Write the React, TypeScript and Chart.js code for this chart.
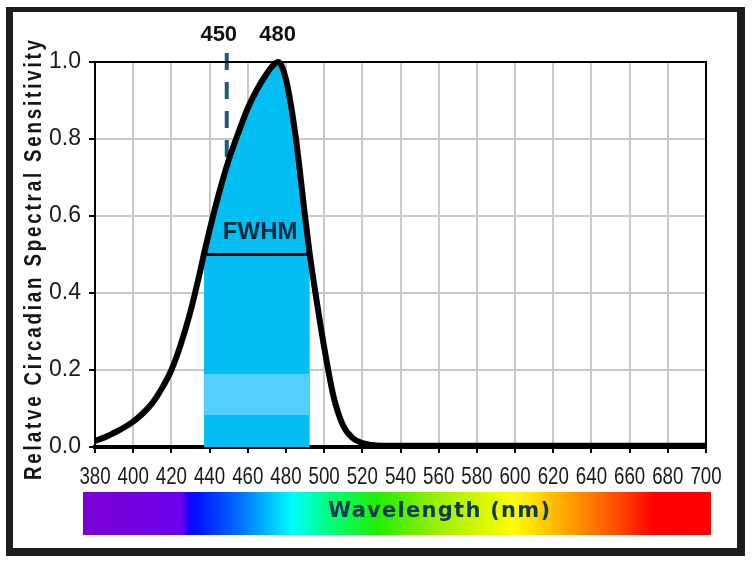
import { useEffect, useRef } from 'react';
import { Chart, registerables } from 'chart.js';

Chart.register(...registerables);

// ---- data ----
const wavelengths = [
  380, 385, 390, 395, 400, 405, 410, 415, 420, 425, 430, 435, 437, 440, 445, 450, 455, 460, 465, 470, 473, 476,
  480, 485, 490, 492.5, 495, 500, 505, 510, 515, 520, 525, 530, 540, 560, 580, 600, 620, 640, 660, 680, 700,
];
const sensitivity = [
  0.016, 0.025, 0.037, 0.05, 0.066, 0.087, 0.114, 0.152, 0.2, 0.268, 0.352, 0.455, 0.5, 0.563, 0.66, 0.745, 0.815,
  0.88, 0.93, 0.97, 0.99, 1.0, 0.955, 0.81, 0.6, 0.5, 0.415, 0.26, 0.13, 0.055, 0.023, 0.01, 0.005, 0.003, 0.003,
  0.003, 0.003, 0.003, 0.003, 0.003, 0.003, 0.003, 0.003,
];
const xTicks = [380, 400, 420, 440, 460, 480, 500, 520, 540, 560, 580, 600, 620, 640, 660, 680, 700];
const yTicks = [0, 0.2, 0.4, 0.6, 0.8, 1.0];
const fwhmBounds = [437, 492.5];
const halfMax = 0.5;
const bandBounds = [0.083, 0.19];
const markerWavelength = 449;
const markerTop = 1.047;
const markerLabel = '450';
const peakWavelength = 475.7;
const peakLabel = '480';
const yTitle = 'Relatve Circadian Spectral Sensitivity';
const xTitle = 'Wavelength (nm)';
const fwhmText = 'FWHM';

const curvePoints = wavelengths.map((w, i) => ({ x: w, y: sensitivity[i] }));

const FILL_COLOR = 'rgb(2,190,242)';
const BAND_COLOR = 'rgb(82,207,250)';
const SANS = '"Liberation Sans", Arial, sans-serif';
const FILL_INDEX = 2;

function fitText(ctx: CanvasRenderingContext2D, text: string, width: number) {
  (ctx as any).letterSpacing = '0px';
  const w0 = ctx.measureText(text).width;
  const ls = (width - w0) / (text.length - 1);
  (ctx as any).letterSpacing = `${ls}px`;
}

const decorPlugin = {
  id: 'decor',
  beforeDraw(chart: any) {
    const { ctx } = chart;
    ctx.save();
    const g = ctx.createLinearGradient(83, 0, 711, 0);
    const stops: [number, string][] = [
      [0, '#7b00d4'],
      [0.158, '#6c00ee'],
      [0.166, '#2200ff'],
      [0.18, '#0010ff'],
      [0.25, '#0070ff'],
      [0.334, '#00ffff'],
      [0.39, '#00ff80'],
      [0.47, '#22ee00'],
      [0.56, '#99ee00'],
      [0.686, '#ffff00'],
      [0.79, '#ff9000'],
      [0.86, '#ff4000'],
      [0.91, '#ff0000'],
      [1, '#ff0000'],
    ];
    stops.forEach(([o, c]) => g.addColorStop(o, c));
    ctx.fillStyle = g;
    ctx.fillRect(83, 492, 628, 43);
    ctx.restore();
  },
  afterDatasetDraw(chart: any, args: any) {
    if (args.index !== FILL_INDEX) return;
    const { ctx, scales } = chart;
    const l = scales.x.getPixelForValue(fwhmBounds[0]);
    const r = scales.x.getPixelForValue(fwhmBounds[1]);
    const t = scales.y.getPixelForValue(bandBounds[1]);
    const b = scales.y.getPixelForValue(bandBounds[0]);
    ctx.save();
    ctx.fillStyle = BAND_COLOR;
    ctx.fillRect(l, t, r - l, b - t);
    ctx.restore();
  },
  afterDraw(chart: any) {
    const { ctx, chartArea, scales } = chart;
    ctx.save();
    // plot frame top & right
    ctx.strokeStyle = '#000';
    ctx.lineWidth = 2;
    ctx.beginPath();
    ctx.moveTo(chartArea.left, chartArea.top);
    ctx.lineTo(chartArea.right, chartArea.top);
    ctx.lineTo(chartArea.right, chartArea.bottom);
    ctx.stroke();

    // x tick labels (condensed)
    ctx.fillStyle = '#1a1a1a';
    ctx.font = `24px ${SANS}`;
    ctx.textAlign = 'center';
    ctx.textBaseline = 'middle';
    xTicks.forEach((v) => {
      ctx.save();
      ctx.translate(scales.x.getPixelForValue(v), 477);
      ctx.scale(0.78, 1);
      ctx.fillText(String(v), 0, 0);
      ctx.restore();
    });

    // top labels
    ctx.fillStyle = '#111';
    ctx.font = `bold 22px ${SANS}`;
    ctx.fillText(markerLabel, scales.x.getPixelForValue(markerWavelength) - 8, 35);
    ctx.fillText(peakLabel, scales.x.getPixelForValue(peakWavelength), 35);

    // FWHM
    ctx.fillStyle = '#0b2a3c';
    ctx.font = `bold 24px ${SANS}`;
    ctx.fillText(fwhmText, scales.x.getPixelForValue(466.5), scales.y.getPixelForValue(0.558));

    // y title
    ctx.save();
    ctx.translate(34, 260);
    ctx.rotate(-Math.PI / 2);
    ctx.scale(0.78, 1);
    ctx.fillStyle = '#151515';
    ctx.font = `bold 24px ${SANS}`;
    ctx.textAlign = 'left';
    fitText(ctx, yTitle, 440 / 0.78);
    ctx.fillText(yTitle, -220 / 0.78, 0);
    ctx.restore();

    // x title over spectrum bar
    ctx.fillStyle = '#0c3b57';
    ctx.font = `bold 21px "DejaVu Sans", sans-serif`;
    ctx.textAlign = 'left';
    fitText(ctx, xTitle, 222);
    ctx.fillText(xTitle, 328, 512);
    ctx.restore();
  },
};

export default function App() {
  const ref = useRef<HTMLCanvasElement>(null);
  useEffect(() => {
    const grid = {
      color: '#c8c8c8',
      lineWidth: 2,
      tickColor: '#000',
      tickLength: 6,
      tickWidth: 2,
    };
    const chart = new Chart(ref.current!, {
      type: 'line',
      data: {
        datasets: [
          {
            data: curvePoints,
            borderColor: '#000',
            borderWidth: 6,
            pointRadius: 0,
            fill: false,
            cubicInterpolationMode: 'monotone',
            clip: 10,
            order: 0,
          },
          {
            data: [
              { x: fwhmBounds[0], y: halfMax },
              { x: fwhmBounds[1], y: halfMax },
            ],
            borderColor: '#000',
            borderWidth: 3,
            pointRadius: 0,
            fill: false,
            order: 1,
          },
          {
            data: curvePoints,
            borderColor: 'rgba(0,0,0,0)',
            borderWidth: 0,
            backgroundColor: 'rgba(0,0,0,0)',
            pointRadius: 0,
            fill: 'origin',
            cubicInterpolationMode: 'monotone',
            segment: {
              backgroundColor: (c: any) =>
                c.p0.parsed.x >= fwhmBounds[0] - 1e-6 && c.p1.parsed.x <= fwhmBounds[1] + 1e-6
                  ? FILL_COLOR
                  : 'rgba(0,0,0,0)',
            },
            order: 3,
          },
          {
            data: [
              { x: markerWavelength, y: 0 },
              { x: markerWavelength, y: markerTop },
            ],
            borderColor: '#1d5b7c',
            borderWidth: 4,
            borderDash: [17, 12],
            pointRadius: 0,
            fill: false,
            clip: false,
            order: 4,
          },
        ],
      } as any,
      options: {
        animation: false,
        responsive: false,
        devicePixelRatio: 1,
        layout: { padding: { top: 62, right: 48, left: 0, bottom: 0 } },
        plugins: { legend: { display: false }, tooltip: { enabled: false } },
        scales: {
          x: {
            type: 'linear',
            min: xTicks[0],
            max: xTicks[xTicks.length - 1],
            afterBuildTicks: (s: any) => {
              s.ticks = xTicks.map((v) => ({ value: v }));
            },
            ticks: { display: false },
            grid,
            border: { display: true, color: '#000', width: 4 },
            afterFit: (s: any) => {
              s.height = 116;
            },
          },
          y: {
            type: 'linear',
            min: 0,
            max: 1,
            afterBuildTicks: (s: any) => {
              s.ticks = yTicks.map((v) => ({ value: v }));
            },
            ticks: {
              color: '#1a1a1a',
              font: { family: SANS, size: 23 },
              padding: 8,
              callback: (v: any) => Number(v).toFixed(1),
            },
            grid,
            border: { display: true, color: '#000', width: 2 },
            afterFit: (s: any) => {
              s.width = 95;
            },
          },
        },
      } as any,
      plugins: [decorPlugin],
    });
    return () => chart.destroy();
  }, []);
  return (
    <div style={{ position: 'fixed', left: 0, top: 0, width: 754, height: 563, background: '#fff', overflow: 'hidden' }}>
      <canvas ref={ref} width={754} height={563} style={{ position: 'absolute', left: 0, top: 0, width: 754, height: 563 }} />
      <div
        style={{
          position: 'absolute',
          left: 6,
          top: 7,
          width: 739,
          height: 549,
          boxSizing: 'border-box',
          borderStyle: 'solid',
          borderColor: '#1c1c1c',
          borderWidth: '5px 8px 8px 7px',
          pointerEvents: 'none',
        }}
      />
    </div>
  );
}
